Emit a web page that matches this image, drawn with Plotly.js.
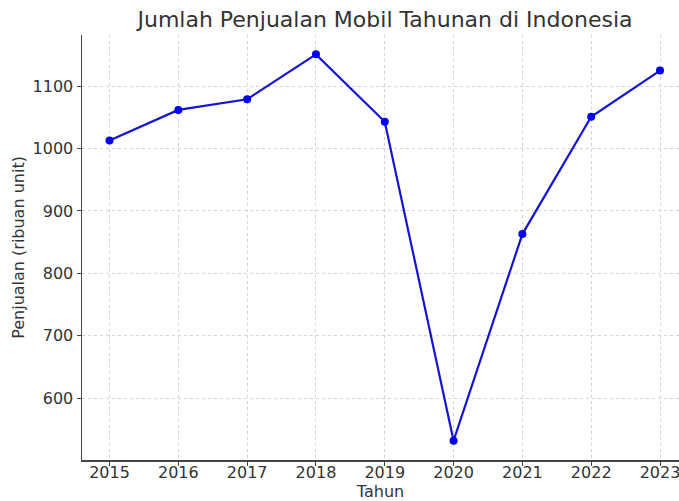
<!DOCTYPE html>
<html>
<head>
<meta charset="utf-8">
<script src="https://cdn.plot.ly/plotly-3.0.1.min.js"></script>
<style>html,body{margin:0;padding:0;background:#fff;}#chart{width:679px;height:501px;}</style>
</head>
<body>
<div id="chart"></div>
<script>
const years = [2015, 2016, 2017, 2018, 2019, 2020, 2021, 2022, 2023];
const sales = [1013, 1062, 1079, 1151, 1043, 532, 863, 1051, 1125];
const yTicks = [600, 700, 800, 900, 1000, 1100];

const font = 'DejaVu Sans, sans-serif';
Plotly.newPlot('chart', [{
  x: years, y: sales, type: 'scatter', mode: 'lines+markers',
  line: {color: '#1414d2', width: 2.2},
  marker: {color: '#0000f0', size: 8}
}], {
  width: 679, height: 501,
  margin: {l: 82, r: 0, t: 35, b: 41},
  paper_bgcolor: '#fff', plot_bgcolor: '#fff',
  showlegend: false,
  title: {text: 'Jumlah Penjualan Mobil Tahunan di Indonesia', font: {family: font, size: 22, color: '#333'},
    x: 0.5075, xref: 'paper', xanchor: 'center', y: 1 - 19/501, yref: 'container', yanchor: 'middle'},
  xaxis: {range: [2014.6, 2023.276], tickvals: years, ticktext: years.map(String),
    showgrid: true, gridcolor: '#d4d4d4', griddash: '3px,3px', gridwidth: 1,
    zeroline: false, showline: true, linecolor: '#444', linewidth: 1.5,
    ticks: 'outside', ticklen: 4, tickcolor: '#444', tickwidth: 1,
    ticklabeloverflow: 'allow', ticklabelstandoff: -7,
    tickfont: {family: font, size: 16, color: '#333'},
    title: {text: 'Tahun', font: {family: font, size: 16, color: '#333'}, standoff: 3}},
  yaxis: {range: [501, 1182], tickvals: yTicks,
    showgrid: true, gridcolor: '#d4d4d4', griddash: '3px,3px', gridwidth: 1,
    zeroline: false, showline: true, linecolor: '#444', linewidth: 1.5,
    ticks: 'outside', ticklen: 4, tickcolor: '#444', tickwidth: 1,
    tickfont: {family: font, size: 16, color: '#333'},
    title: {text: 'Penjualan (ribuan unit)', font: {family: font, size: 16, color: '#333'}, standoff: 4}}
}, {displayModeBar: false, staticPlot: true});
</script>
</body>
</html>
